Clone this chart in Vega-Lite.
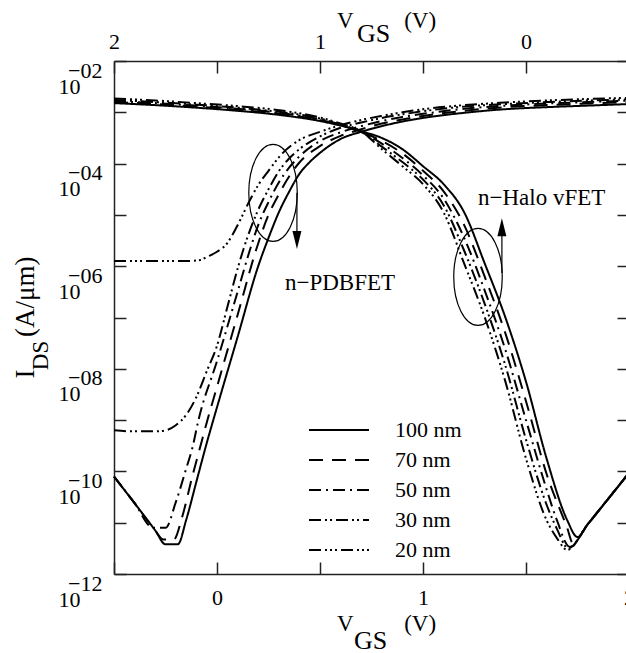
{
"$schema":"https://vega.github.io/schema/vega-lite/v6.json",
"width":515,"height":513,
"autosize":{"type":"none"},
"padding":{"left":114,"top":61,"right":0,"bottom":79},
"background":"white",
"config":{
 "view":{"stroke":null},
 "axis":{"grid":false,"domainColor":"#222","domainWidth":1.5,"tickColor":"#222","tickWidth":1.5,"labelFont":"Liberation Serif","titleFont":"Liberation Serif","labelColor":"black","titleColor":"black","titleFontWeight":"normal","labelFontSize":22,"labelFlush":false,"labelOverlap":false}
},
"datasets":{
"curves":[
{"device":"n-PDBFET","length":"100 nm","vgs":-0.5,"ids":7.94e-11},{"device":"n-PDBFET","length":"100 nm","vgs":-0.4,"ids":2.40e-11},{"device":"n-PDBFET","length":"100 nm","vgs":-0.3,"ids":7.08e-12},{"device":"n-PDBFET","length":"100 nm","vgs":-0.25,"ids":3.80e-12},{"device":"n-PDBFET","length":"100 nm","vgs":-0.19,"ids":3.80e-12},{"device":"n-PDBFET","length":"100 nm","vgs":-0.15,"ids":1.12e-11},{"device":"n-PDBFET","length":"100 nm","vgs":-0.1,"ids":6.31e-11},{"device":"n-PDBFET","length":"100 nm","vgs":-0.05,"ids":3.55e-10},{"device":"n-PDBFET","length":"100 nm","vgs":0,"ids":1.78e-9},{"device":"n-PDBFET","length":"100 nm","vgs":0.1,"ids":4.17e-8},{"device":"n-PDBFET","length":"100 nm","vgs":0.2,"ids":1.0e-6},{"device":"n-PDBFET","length":"100 nm","vgs":0.25,"ids":3.55e-6},{"device":"n-PDBFET","length":"100 nm","vgs":0.3,"ids":1.12e-5},{"device":"n-PDBFET","length":"100 nm","vgs":0.35,"ids":2.82e-5},{"device":"n-PDBFET","length":"100 nm","vgs":0.4,"ids":6.31e-5},{"device":"n-PDBFET","length":"100 nm","vgs":0.45,"ids":1.07e-4},{"device":"n-PDBFET","length":"100 nm","vgs":0.5,"ids":1.62e-4},{"device":"n-PDBFET","length":"100 nm","vgs":0.6,"ids":3.02e-4},{"device":"n-PDBFET","length":"100 nm","vgs":0.7,"ids":4.17e-4},{"device":"n-PDBFET","length":"100 nm","vgs":0.8,"ids":5.37e-4},{"device":"n-PDBFET","length":"100 nm","vgs":0.9,"ids":6.61e-4},{"device":"n-PDBFET","length":"100 nm","vgs":1.0,"ids":7.76e-4},{"device":"n-PDBFET","length":"100 nm","vgs":1.2,"ids":9.77e-4},{"device":"n-PDBFET","length":"100 nm","vgs":1.4,"ids":1.15e-3},{"device":"n-PDBFET","length":"100 nm","vgs":1.6,"ids":1.26e-3},{"device":"n-PDBFET","length":"100 nm","vgs":1.8,"ids":1.35e-3},{"device":"n-PDBFET","length":"100 nm","vgs":2.0,"ids":1.45e-3},
{"device":"n-PDBFET","length":"70 nm","vgs":-0.5,"ids":7.94e-11},{"device":"n-PDBFET","length":"70 nm","vgs":-0.4,"ids":2.40e-11},{"device":"n-PDBFET","length":"70 nm","vgs":-0.3,"ids":7.08e-12},{"device":"n-PDBFET","length":"70 nm","vgs":-0.26,"ids":4.68e-12},{"device":"n-PDBFET","length":"70 nm","vgs":-0.21,"ids":4.68e-12},{"device":"n-PDBFET","length":"70 nm","vgs":-0.17,"ids":1.26e-11},{"device":"n-PDBFET","length":"70 nm","vgs":-0.12,"ids":7.94e-11},{"device":"n-PDBFET","length":"70 nm","vgs":-0.08,"ids":3.16e-10},{"device":"n-PDBFET","length":"70 nm","vgs":-0.05,"ids":8.91e-10},{"device":"n-PDBFET","length":"70 nm","vgs":0,"ids":4.47e-9},{"device":"n-PDBFET","length":"70 nm","vgs":0.1,"ids":1.12e-7},{"device":"n-PDBFET","length":"70 nm","vgs":0.19,"ids":2.09e-6},{"device":"n-PDBFET","length":"70 nm","vgs":0.25,"ids":1.0e-5},{"device":"n-PDBFET","length":"70 nm","vgs":0.3,"ids":2.51e-5},{"device":"n-PDBFET","length":"70 nm","vgs":0.35,"ids":5.62e-5},{"device":"n-PDBFET","length":"70 nm","vgs":0.4,"ids":1.05e-4},{"device":"n-PDBFET","length":"70 nm","vgs":0.5,"ids":2.19e-4},{"device":"n-PDBFET","length":"70 nm","vgs":0.6,"ids":3.47e-4},{"device":"n-PDBFET","length":"70 nm","vgs":0.7,"ids":4.68e-4},{"device":"n-PDBFET","length":"70 nm","vgs":0.8,"ids":6.03e-4},{"device":"n-PDBFET","length":"70 nm","vgs":0.9,"ids":7.24e-4},{"device":"n-PDBFET","length":"70 nm","vgs":1.0,"ids":8.51e-4},{"device":"n-PDBFET","length":"70 nm","vgs":1.2,"ids":1.07e-3},{"device":"n-PDBFET","length":"70 nm","vgs":1.4,"ids":1.26e-3},{"device":"n-PDBFET","length":"70 nm","vgs":1.6,"ids":1.38e-3},{"device":"n-PDBFET","length":"70 nm","vgs":1.8,"ids":1.48e-3},{"device":"n-PDBFET","length":"70 nm","vgs":2.0,"ids":1.58e-3},
{"device":"n-PDBFET","length":"50 nm","vgs":-0.5,"ids":7.94e-11},{"device":"n-PDBFET","length":"50 nm","vgs":-0.4,"ids":2.40e-11},{"device":"n-PDBFET","length":"50 nm","vgs":-0.31,"ids":7.94e-12},{"device":"n-PDBFET","length":"50 nm","vgs":-0.25,"ids":7.94e-12},{"device":"n-PDBFET","length":"50 nm","vgs":-0.2,"ids":2.51e-11},{"device":"n-PDBFET","length":"50 nm","vgs":-0.15,"ids":1.12e-10},{"device":"n-PDBFET","length":"50 nm","vgs":-0.12,"ids":2.82e-10},{"device":"n-PDBFET","length":"50 nm","vgs":-0.09,"ids":1.0e-9},{"device":"n-PDBFET","length":"50 nm","vgs":0,"ids":1.41e-8},{"device":"n-PDBFET","length":"50 nm","vgs":0.1,"ids":3.16e-7},{"device":"n-PDBFET","length":"50 nm","vgs":0.16,"ids":2.09e-6},{"device":"n-PDBFET","length":"50 nm","vgs":0.2,"ids":6.31e-6},{"device":"n-PDBFET","length":"50 nm","vgs":0.25,"ids":1.78e-5},{"device":"n-PDBFET","length":"50 nm","vgs":0.3,"ids":4.27e-5},{"device":"n-PDBFET","length":"50 nm","vgs":0.35,"ids":8.32e-5},{"device":"n-PDBFET","length":"50 nm","vgs":0.4,"ids":1.38e-4},{"device":"n-PDBFET","length":"50 nm","vgs":0.5,"ids":2.75e-4},{"device":"n-PDBFET","length":"50 nm","vgs":0.6,"ids":4.07e-4},{"device":"n-PDBFET","length":"50 nm","vgs":0.7,"ids":5.37e-4},{"device":"n-PDBFET","length":"50 nm","vgs":0.8,"ids":6.76e-4},{"device":"n-PDBFET","length":"50 nm","vgs":0.9,"ids":8.13e-4},{"device":"n-PDBFET","length":"50 nm","vgs":1.0,"ids":9.33e-4},{"device":"n-PDBFET","length":"50 nm","vgs":1.2,"ids":1.17e-3},{"device":"n-PDBFET","length":"50 nm","vgs":1.4,"ids":1.35e-3},{"device":"n-PDBFET","length":"50 nm","vgs":1.6,"ids":1.48e-3},{"device":"n-PDBFET","length":"50 nm","vgs":1.8,"ids":1.58e-3},{"device":"n-PDBFET","length":"50 nm","vgs":2.0,"ids":1.70e-3},
{"device":"n-PDBFET","length":"30 nm","vgs":-0.5,"ids":6.31e-10},{"device":"n-PDBFET","length":"30 nm","vgs":-0.4,"ids":6.03e-10},{"device":"n-PDBFET","length":"30 nm","vgs":-0.3,"ids":6.03e-10},{"device":"n-PDBFET","length":"30 nm","vgs":-0.25,"ids":6.31e-10},{"device":"n-PDBFET","length":"30 nm","vgs":-0.2,"ids":7.94e-10},{"device":"n-PDBFET","length":"30 nm","vgs":-0.15,"ids":1.26e-9},{"device":"n-PDBFET","length":"30 nm","vgs":-0.1,"ids":2.82e-9},{"device":"n-PDBFET","length":"30 nm","vgs":-0.05,"ids":8.91e-9},{"device":"n-PDBFET","length":"30 nm","vgs":0,"ids":2.82e-8},{"device":"n-PDBFET","length":"30 nm","vgs":0.05,"ids":1.58e-7},{"device":"n-PDBFET","length":"30 nm","vgs":0.1,"ids":8.91e-7},{"device":"n-PDBFET","length":"30 nm","vgs":0.13,"ids":2.24e-6},{"device":"n-PDBFET","length":"30 nm","vgs":0.2,"ids":1.26e-5},{"device":"n-PDBFET","length":"30 nm","vgs":0.25,"ids":3.16e-5},{"device":"n-PDBFET","length":"30 nm","vgs":0.3,"ids":7.08e-5},{"device":"n-PDBFET","length":"30 nm","vgs":0.35,"ids":1.26e-4},{"device":"n-PDBFET","length":"30 nm","vgs":0.4,"ids":1.91e-4},{"device":"n-PDBFET","length":"30 nm","vgs":0.5,"ids":3.39e-4},{"device":"n-PDBFET","length":"30 nm","vgs":0.6,"ids":5.01e-4},{"device":"n-PDBFET","length":"30 nm","vgs":0.7,"ids":6.31e-4},{"device":"n-PDBFET","length":"30 nm","vgs":0.8,"ids":7.76e-4},{"device":"n-PDBFET","length":"30 nm","vgs":0.9,"ids":9.12e-4},{"device":"n-PDBFET","length":"30 nm","vgs":1.0,"ids":1.05e-3},{"device":"n-PDBFET","length":"30 nm","vgs":1.2,"ids":1.29e-3},{"device":"n-PDBFET","length":"30 nm","vgs":1.4,"ids":1.45e-3},{"device":"n-PDBFET","length":"30 nm","vgs":1.6,"ids":1.58e-3},{"device":"n-PDBFET","length":"30 nm","vgs":1.8,"ids":1.70e-3},{"device":"n-PDBFET","length":"30 nm","vgs":2.0,"ids":1.78e-3},
{"device":"n-PDBFET","length":"20 nm","vgs":-0.5,"ids":1.26e-6},{"device":"n-PDBFET","length":"20 nm","vgs":-0.3,"ids":1.26e-6},{"device":"n-PDBFET","length":"20 nm","vgs":-0.15,"ids":1.26e-6},{"device":"n-PDBFET","length":"20 nm","vgs":-0.08,"ids":1.32e-6},{"device":"n-PDBFET","length":"20 nm","vgs":-0.05,"ids":1.51e-6},{"device":"n-PDBFET","length":"20 nm","vgs":0,"ids":1.91e-6},{"device":"n-PDBFET","length":"20 nm","vgs":0.05,"ids":2.82e-6},{"device":"n-PDBFET","length":"20 nm","vgs":0.1,"ids":6.31e-6},{"device":"n-PDBFET","length":"20 nm","vgs":0.16,"ids":1.95e-5},{"device":"n-PDBFET","length":"20 nm","vgs":0.2,"ids":3.80e-5},{"device":"n-PDBFET","length":"20 nm","vgs":0.25,"ids":7.24e-5},{"device":"n-PDBFET","length":"20 nm","vgs":0.32,"ids":1.62e-4},{"device":"n-PDBFET","length":"20 nm","vgs":0.4,"ids":2.88e-4},{"device":"n-PDBFET","length":"20 nm","vgs":0.5,"ids":4.17e-4},{"device":"n-PDBFET","length":"20 nm","vgs":0.6,"ids":5.62e-4},{"device":"n-PDBFET","length":"20 nm","vgs":0.7,"ids":7.08e-4},{"device":"n-PDBFET","length":"20 nm","vgs":0.8,"ids":8.51e-4},{"device":"n-PDBFET","length":"20 nm","vgs":0.9,"ids":1.0e-3},{"device":"n-PDBFET","length":"20 nm","vgs":1.0,"ids":1.15e-3},{"device":"n-PDBFET","length":"20 nm","vgs":1.2,"ids":1.38e-3},{"device":"n-PDBFET","length":"20 nm","vgs":1.4,"ids":1.55e-3},{"device":"n-PDBFET","length":"20 nm","vgs":1.6,"ids":1.70e-3},{"device":"n-PDBFET","length":"20 nm","vgs":1.8,"ids":1.82e-3},{"device":"n-PDBFET","length":"20 nm","vgs":2.0,"ids":1.91e-3},
{"device":"n-Halo vFET","length":"100 nm","vgs":-0.5,"ids":1.51e-3},{"device":"n-Halo vFET","length":"100 nm","vgs":-0.3,"ids":1.38e-3},{"device":"n-Halo vFET","length":"100 nm","vgs":-0.1,"ids":1.23e-3},{"device":"n-Halo vFET","length":"100 nm","vgs":0.1,"ids":1.07e-3},{"device":"n-Halo vFET","length":"100 nm","vgs":0.3,"ids":8.91e-4},{"device":"n-Halo vFET","length":"100 nm","vgs":0.5,"ids":6.76e-4},{"device":"n-Halo vFET","length":"100 nm","vgs":0.6,"ids":5.50e-4},{"device":"n-Halo vFET","length":"100 nm","vgs":0.7,"ids":4.27e-4},{"device":"n-Halo vFET","length":"100 nm","vgs":0.8,"ids":3.16e-4},{"device":"n-Halo vFET","length":"100 nm","vgs":0.9,"ids":1.91e-4},{"device":"n-Halo vFET","length":"100 nm","vgs":1.0,"ids":8.91e-5},{"device":"n-Halo vFET","length":"100 nm","vgs":1.1,"ids":3.98e-5},{"device":"n-Halo vFET","length":"100 nm","vgs":1.2,"ids":1.12e-5},{"device":"n-Halo vFET","length":"100 nm","vgs":1.3,"ids":1.12e-6},{"device":"n-Halo vFET","length":"100 nm","vgs":1.4,"ids":1.0e-7},{"device":"n-Halo vFET","length":"100 nm","vgs":1.5,"ids":5.62e-9},{"device":"n-Halo vFET","length":"100 nm","vgs":1.6,"ids":1.78e-10},{"device":"n-Halo vFET","length":"100 nm","vgs":1.7,"ids":1.12e-11},{"device":"n-Halo vFET","length":"100 nm","vgs":1.75,"ids":5.25e-12},{"device":"n-Halo vFET","length":"100 nm","vgs":1.8,"ids":9.33e-12},{"device":"n-Halo vFET","length":"100 nm","vgs":1.9,"ids":2.95e-11},{"device":"n-Halo vFET","length":"100 nm","vgs":2.0,"ids":9.33e-11},
{"device":"n-Halo vFET","length":"70 nm","vgs":-0.5,"ids":1.58e-3},{"device":"n-Halo vFET","length":"70 nm","vgs":-0.3,"ids":1.45e-3},{"device":"n-Halo vFET","length":"70 nm","vgs":-0.1,"ids":1.29e-3},{"device":"n-Halo vFET","length":"70 nm","vgs":0.1,"ids":1.12e-3},{"device":"n-Halo vFET","length":"70 nm","vgs":0.3,"ids":9.33e-4},{"device":"n-Halo vFET","length":"70 nm","vgs":0.5,"ids":7.08e-4},{"device":"n-Halo vFET","length":"70 nm","vgs":0.6,"ids":5.62e-4},{"device":"n-Halo vFET","length":"70 nm","vgs":0.7,"ids":4.17e-4},{"device":"n-Halo vFET","length":"70 nm","vgs":0.8,"ids":2.75e-4},{"device":"n-Halo vFET","length":"70 nm","vgs":0.9,"ids":1.58e-4},{"device":"n-Halo vFET","length":"70 nm","vgs":1.0,"ids":7.24e-5},{"device":"n-Halo vFET","length":"70 nm","vgs":1.1,"ids":2.88e-5},{"device":"n-Halo vFET","length":"70 nm","vgs":1.2,"ids":6.31e-6},{"device":"n-Halo vFET","length":"70 nm","vgs":1.3,"ids":6.17e-7},{"device":"n-Halo vFET","length":"70 nm","vgs":1.4,"ids":4.90e-8},{"device":"n-Halo vFET","length":"70 nm","vgs":1.5,"ids":2.34e-9},{"device":"n-Halo vFET","length":"70 nm","vgs":1.6,"ids":8.91e-11},{"device":"n-Halo vFET","length":"70 nm","vgs":1.7,"ids":7.94e-12},{"device":"n-Halo vFET","length":"70 nm","vgs":1.727,"ids":4.07e-12},{"device":"n-Halo vFET","length":"70 nm","vgs":1.8,"ids":9.33e-12},{"device":"n-Halo vFET","length":"70 nm","vgs":1.9,"ids":2.95e-11},{"device":"n-Halo vFET","length":"70 nm","vgs":2.0,"ids":9.33e-11},
{"device":"n-Halo vFET","length":"50 nm","vgs":-0.5,"ids":1.66e-3},{"device":"n-Halo vFET","length":"50 nm","vgs":-0.3,"ids":1.51e-3},{"device":"n-Halo vFET","length":"50 nm","vgs":-0.1,"ids":1.35e-3},{"device":"n-Halo vFET","length":"50 nm","vgs":0.1,"ids":1.17e-3},{"device":"n-Halo vFET","length":"50 nm","vgs":0.3,"ids":9.77e-4},{"device":"n-Halo vFET","length":"50 nm","vgs":0.5,"ids":7.24e-4},{"device":"n-Halo vFET","length":"50 nm","vgs":0.6,"ids":5.62e-4},{"device":"n-Halo vFET","length":"50 nm","vgs":0.7,"ids":4.17e-4},{"device":"n-Halo vFET","length":"50 nm","vgs":0.8,"ids":2.45e-4},{"device":"n-Halo vFET","length":"50 nm","vgs":0.9,"ids":1.29e-4},{"device":"n-Halo vFET","length":"50 nm","vgs":1.0,"ids":5.89e-5},{"device":"n-Halo vFET","length":"50 nm","vgs":1.1,"ids":2.09e-5},{"device":"n-Halo vFET","length":"50 nm","vgs":1.2,"ids":3.55e-6},{"device":"n-Halo vFET","length":"50 nm","vgs":1.3,"ids":3.31e-7},{"device":"n-Halo vFET","length":"50 nm","vgs":1.4,"ids":2.34e-8},{"device":"n-Halo vFET","length":"50 nm","vgs":1.5,"ids":1.0e-9},{"device":"n-Halo vFET","length":"50 nm","vgs":1.6,"ids":4.47e-11},{"device":"n-Halo vFET","length":"50 nm","vgs":1.65,"ids":1.12e-11},{"device":"n-Halo vFET","length":"50 nm","vgs":1.712,"ids":3.39e-12},{"device":"n-Halo vFET","length":"50 nm","vgs":1.8,"ids":9.33e-12},{"device":"n-Halo vFET","length":"50 nm","vgs":1.9,"ids":2.95e-11},{"device":"n-Halo vFET","length":"50 nm","vgs":2.0,"ids":9.33e-11},
{"device":"n-Halo vFET","length":"30 nm","vgs":-0.5,"ids":1.74e-3},{"device":"n-Halo vFET","length":"30 nm","vgs":-0.3,"ids":1.58e-3},{"device":"n-Halo vFET","length":"30 nm","vgs":-0.1,"ids":1.41e-3},{"device":"n-Halo vFET","length":"30 nm","vgs":0.1,"ids":1.23e-3},{"device":"n-Halo vFET","length":"30 nm","vgs":0.3,"ids":1.02e-3},{"device":"n-Halo vFET","length":"30 nm","vgs":0.5,"ids":7.59e-4},{"device":"n-Halo vFET","length":"30 nm","vgs":0.6,"ids":5.75e-4},{"device":"n-Halo vFET","length":"30 nm","vgs":0.7,"ids":4.17e-4},{"device":"n-Halo vFET","length":"30 nm","vgs":0.8,"ids":2.14e-4},{"device":"n-Halo vFET","length":"30 nm","vgs":0.9,"ids":1.07e-4},{"device":"n-Halo vFET","length":"30 nm","vgs":1.0,"ids":4.90e-5},{"device":"n-Halo vFET","length":"30 nm","vgs":1.1,"ids":1.55e-5},{"device":"n-Halo vFET","length":"30 nm","vgs":1.2,"ids":2.0e-6},{"device":"n-Halo vFET","length":"30 nm","vgs":1.3,"ids":1.82e-7},{"device":"n-Halo vFET","length":"30 nm","vgs":1.4,"ids":1.15e-8},{"device":"n-Halo vFET","length":"30 nm","vgs":1.5,"ids":4.17e-10},{"device":"n-Halo vFET","length":"30 nm","vgs":1.6,"ids":2.24e-11},{"device":"n-Halo vFET","length":"30 nm","vgs":1.65,"ids":7.59e-12},{"device":"n-Halo vFET","length":"30 nm","vgs":1.705,"ids":3.16e-12},{"device":"n-Halo vFET","length":"30 nm","vgs":1.8,"ids":9.33e-12},{"device":"n-Halo vFET","length":"30 nm","vgs":1.9,"ids":2.95e-11},{"device":"n-Halo vFET","length":"30 nm","vgs":2.0,"ids":9.33e-11},
{"device":"n-Halo vFET","length":"20 nm","vgs":-0.5,"ids":1.86e-3},{"device":"n-Halo vFET","length":"20 nm","vgs":-0.3,"ids":1.70e-3},{"device":"n-Halo vFET","length":"20 nm","vgs":-0.1,"ids":1.51e-3},{"device":"n-Halo vFET","length":"20 nm","vgs":0.1,"ids":1.32e-3},{"device":"n-Halo vFET","length":"20 nm","vgs":0.3,"ids":1.10e-3},{"device":"n-Halo vFET","length":"20 nm","vgs":0.5,"ids":7.94e-4},{"device":"n-Halo vFET","length":"20 nm","vgs":0.6,"ids":6.03e-4},{"device":"n-Halo vFET","length":"20 nm","vgs":0.7,"ids":4.27e-4},{"device":"n-Halo vFET","length":"20 nm","vgs":0.8,"ids":1.91e-4},{"device":"n-Halo vFET","length":"20 nm","vgs":0.9,"ids":8.91e-5},{"device":"n-Halo vFET","length":"20 nm","vgs":1.0,"ids":3.98e-5},{"device":"n-Halo vFET","length":"20 nm","vgs":1.1,"ids":1.12e-5},{"device":"n-Halo vFET","length":"20 nm","vgs":1.2,"ids":1.12e-6},{"device":"n-Halo vFET","length":"20 nm","vgs":1.3,"ids":1.0e-7},{"device":"n-Halo vFET","length":"20 nm","vgs":1.4,"ids":5.62e-9},{"device":"n-Halo vFET","length":"20 nm","vgs":1.5,"ids":1.78e-10},{"device":"n-Halo vFET","length":"20 nm","vgs":1.6,"ids":1.12e-11},{"device":"n-Halo vFET","length":"20 nm","vgs":1.65,"ids":5.01e-12},{"device":"n-Halo vFET","length":"20 nm","vgs":1.7,"ids":2.95e-12},{"device":"n-Halo vFET","length":"20 nm","vgs":1.8,"ids":9.33e-12},{"device":"n-Halo vFET","length":"20 nm","vgs":1.9,"ids":2.95e-11},{"device":"n-Halo vFET","length":"20 nm","vgs":2.0,"ids":9.33e-11}
],
"notes":[{"label":"n\u2212PDBFET","vgs":0.33,"ids":4.68e-7},{"label":"n\u2212Halo vFET","vgs":1.267,"ids":2.14e-5}],
"ellipses":[{"device":"n-PDBFET","vgs":0.272,"ids":2.69e-5},{"device":"n-Halo vFET","vgs":1.267,"ids":6.17e-7}],
"arrows":[{"device":"n-PDBFET","vgs":0.388,"from":2.69e-5,"to":3.24e-6},{"device":"n-Halo vFET","vgs":1.383,"from":7.41e-7,"to":5.50e-6}],
"heads":[{"device":"n-PDBFET","direction":"down","vgs":0.388,"ids":3.24e-6},{"device":"n-Halo vFET","direction":"up","vgs":1.383,"ids":5.75e-6}]
},
"layer":[
{"data":{"name":"curves"},
 "mark":{"type":"line","strokeWidth":2,"color":"black","interpolate":"monotone"},
 "encoding":{
  "x":{"field":"vgs","type":"quantitative","scale":{"domain":[-0.5,2],"nice":false,"zero":false},
   "axis":{"orient":"bottom","values":[-0.5,0,0.5,1,1.5,2],"labelExpr":"datum.value == 0 ? '0' : datum.value == 1 ? '1' : datum.value == 2 ? '2' : ''","tickSize":-12,"labelPadding":25,
   "title":"V\u2003\u2003\u2009(V)","titleFontSize":23,"titleX":272,"titleY":56,"titleAlign":"center","titleBaseline":"alphabetic"}},
  "y":{"field":"ids","type":"quantitative","scale":{"type":"log","domain":[1e-12,1e-2],"nice":false},
   "axis":{"orient":"left","values":[1e-12,1e-11,1e-10,1e-9,1e-8,1e-7,1e-6,1e-5,1e-4,1e-3,1e-2],
   "labelExpr":"(round(log(datum.value)/LN10) % 2 == 0) ? ['\u2212' + (round(log(datum.value)/LN10) > -10 ? '0' : '') + abs(round(log(datum.value)/LN10)), '10\u00a0\u00a0\u00a0\u00a0\u2060'] : ''",
   "tickSize":-12,"labelPadding":24,"labelBaseline":"top","labelLineHeight":16,"labelOffset":-1,
   "title":"I\u2003\u2009(A/\u03bcm)","titleFontSize":27,"titleAngle":270,"titleX":-81,"titleY":256,"titleAlign":"center","titleBaseline":"alphabetic"}},
  "strokeDash":{"field":"length","type":"nominal",
   "scale":{"domain":["100 nm","70 nm","50 nm","30 nm","20 nm"],"range":[[1,0],[14,9],[12,5,2,5],[12,4,2,3,2,4],[12,4,2,3,2,3,2,4]]},
   "legend":{"orient":"none","legendX":194,"legendY":358,"title":null,"symbolType":"stroke","symbolSize":3600,"symbolStrokeWidth":2,"symbolStrokeColor":"black","labelFont":"Liberation Serif","labelFontSize":22,"labelColor":"black","labelOffset":25,"rowPadding":8,"clipHeight":22}},
  "detail":{"field":"device"}
 }},
{"data":{"name":"notes"},
 "mark":{"type":"text","font":"Liberation Serif","fontSize":23,"align":"left","baseline":"middle","color":"black"},
 "encoding":{
  "x":{"field":"vgs","type":"quantitative","scale":{"domain":[-0.5,2],"nice":false,"zero":false},
   "axis":{"orient":"top","values":[-0.5,0,0.5,1,1.5,2],"labelExpr":"datum.value == -0.5 ? '2' : datum.value == 0.5 ? '1' : datum.value == 1.5 ? '0' : ''","tickSize":-12,"labelPadding":20,
   "title":"V\u2003\u2003\u2009(V)","titleFontSize":23,"titleX":272,"titleY":-34,"titleAlign":"center","titleBaseline":"alphabetic"}},
  "y":{"field":"ids","type":"quantitative","scale":{"type":"log","domain":[1e-12,1e-2],"nice":false},
   "axis":{"orient":"right","values":[1e-12,1e-11,1e-10,1e-9,1e-8,1e-7,1e-6,1e-5,1e-4,1e-3,1e-2],"labels":false,"tickSize":-12,"title":null}},
  "text":{"field":"label"}
 }},
{"data":{"name":"ellipses"},
 "mark":{"type":"point","shape":"M0,-1A0.5,1 0 1,1 0,1A0.5,1 0 1,1 0,-1Z","size":9409,"filled":false,"stroke":"black","strokeWidth":1.2,"opacity":1},
 "encoding":{
  "x":{"field":"vgs","type":"quantitative","scale":{"domain":[-0.5,2],"nice":false,"zero":false},
   "axis":{"orient":"bottom","labels":false,"ticks":false,"domain":false,"title":"GS","titleFontSize":26,"titleX":256,"titleY":74,"titleAlign":"center","titleBaseline":"alphabetic"}},
  "y":{"field":"ids","type":"quantitative","scale":{"type":"log","domain":[1e-12,1e-2],"nice":false},
   "axis":{"orient":"left","labels":false,"ticks":false,"domain":false,"title":"DS","titleFontSize":23,"titleAngle":270,"titleX":-67,"titleY":294,"titleAlign":"center","titleBaseline":"alphabetic"}}
 }},
{"data":{"name":"arrows"},
 "mark":{"type":"rule","stroke":"black","strokeWidth":1.2},
 "encoding":{
  "x":{"field":"vgs","type":"quantitative","scale":{"domain":[-0.5,2],"nice":false,"zero":false},
   "axis":{"orient":"top","labels":false,"ticks":false,"domain":false,"title":"GS","titleFontSize":26,"titleX":259,"titleY":-20,"titleAlign":"center","titleBaseline":"alphabetic"}},
  "y":{"field":"from","type":"quantitative","scale":{"type":"log","domain":[1e-12,1e-2],"nice":false},"axis":null},
  "y2":{"field":"to"}
 }},
{"data":{"name":"heads"},
 "mark":{"type":"point","filled":true,"size":324,"color":"black","opacity":1},
 "encoding":{
  "x":{"field":"vgs","type":"quantitative","scale":{"domain":[-0.5,2],"nice":false,"zero":false},"axis":null},
  "y":{"field":"ids","type":"quantitative","scale":{"type":"log","domain":[1e-12,1e-2],"nice":false},"axis":null},
  "shape":{"field":"direction","type":"nominal","scale":{"domain":["down","up"],"range":["M-0.5,-1L0.5,-1L0,1Z","M-0.5,1L0.5,1L0,-1Z"]},"legend":null}
 }}
],
"resolve":{"axis":{"x":"independent","y":"independent"}}
}
